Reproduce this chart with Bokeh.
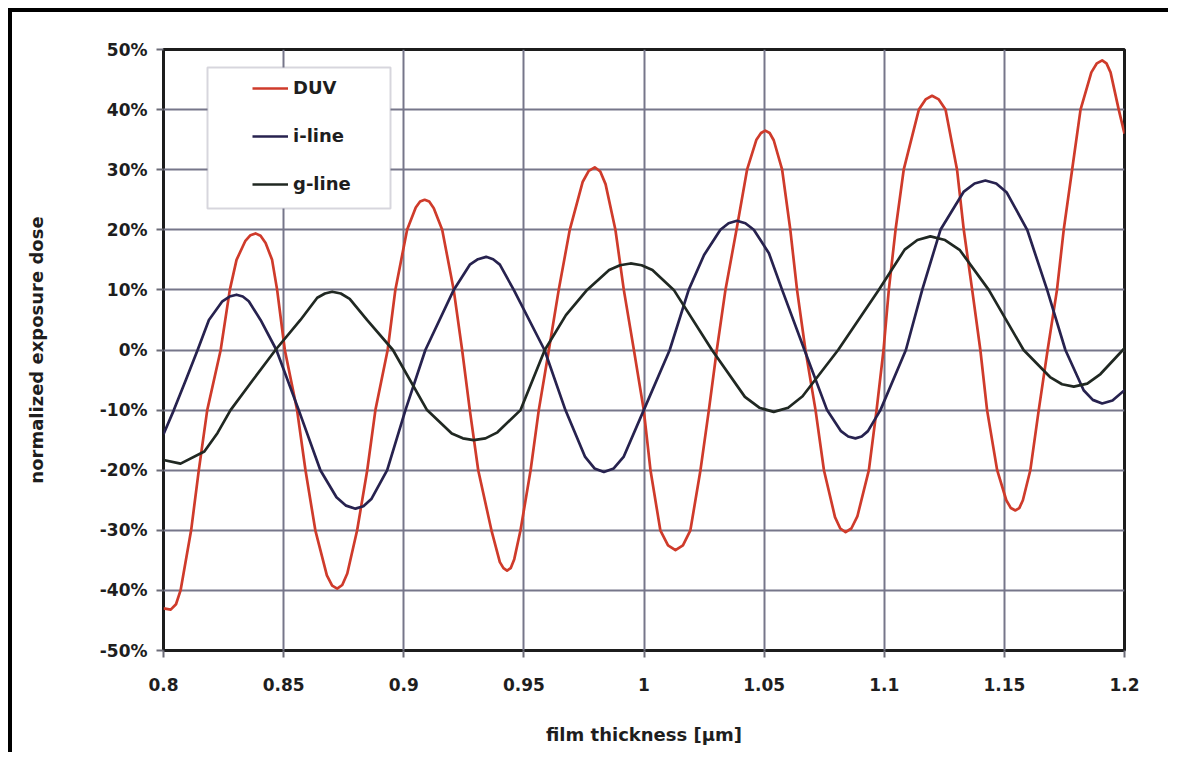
from bokeh.plotting import figure
from bokeh.models import (FixedTicker, Legend, LegendItem, BoxAnnotation, Node, Range1d)
from bokeh.embed import file_html
from bokeh.resources import INLINE

# ---- data ----
x_ticks = [0.8, 0.85, 0.9, 0.95, 1.0, 1.05, 1.1, 1.15, 1.2]
x_tick_labels = ["0.8", "0.85", "0.9", "0.95", "1", "1.05", "1.1", "1.15", "1.2"]
y_ticks = [-50, -40, -30, -20, -10, 0, 10, 20, 30, 40, 50]
y_tick_labels = ["-50%", "-40%", "-30%", "-20%", "-10%", "0%", "10%", "20%", "30%", "40%", "50%"]

series_names = ["DUV", "i-line", "g-line"]

duv_x = [0.8000, 0.8030, 0.8052, 0.8071, 0.8115, 0.8147, 0.8182, 0.8238, 0.8276, 0.8304, 0.8340, 0.8362,
         0.8383, 0.8404, 0.8425, 0.8452, 0.8473, 0.8505, 0.8556, 0.8591, 0.8632, 0.8680, 0.8702,
         0.8723, 0.8744, 0.8765, 0.8806, 0.8848, 0.8882, 0.8933, 0.8965, 0.9014, 0.9050, 0.9068,
         0.9087, 0.9106, 0.9125, 0.9160, 0.9208, 0.9243, 0.9275, 0.9310, 0.9365, 0.9400, 0.9415,
         0.9430, 0.9445, 0.9460, 0.9486, 0.9528, 0.9562, 0.9604, 0.9645, 0.9691, 0.9745, 0.9770,
         0.9795, 0.9818, 0.9840, 0.9881, 0.9916, 0.9958, 0.9999, 1.0027, 1.0068, 1.0100,
         1.0131, 1.0162, 1.0193, 1.0235, 1.0270, 1.0303, 1.0339, 1.0385, 1.0429, 1.0468, 1.0487,
         1.0505, 1.0523, 1.0540, 1.0575, 1.0609, 1.0637, 1.0672, 1.0714, 1.0749, 1.0795, 1.0817,
         1.0839, 1.0863, 1.0888, 1.0936, 1.0968, 1.0997, 1.1019, 1.1047, 1.1081, 1.1144, 1.1172,
         1.1199, 1.1227, 1.1255, 1.1303, 1.1331, 1.1366, 1.1400, 1.1428, 1.1470, 1.1508, 1.1527,
         1.1546, 1.1562, 1.1577, 1.1608, 1.1643, 1.1680, 1.1719, 1.1747, 1.1782, 1.1817, 1.1862, 1.1885,
         1.1907, 1.1925, 1.1942, 1.1976, 1.2000]
duv_y = [-43.0, -43.2, -42.3, -40, -30, -20, -10, 0, 10, 15, 18.1, 19.1,
         19.4, 19.0, 17.8, 15, 10, 0, -10, -20, -30, -37.5, -39.2,
         -39.7, -39.1, -37.2, -30, -20, -10, 0, 10, 20, 23.7, 24.7,
         25.0, 24.7, 23.6, 20, 10, 0, -10, -20, -30, -35.3, -36.3,
         -36.7, -36.3, -34.8, -30, -20, -10, 0, 10, 20, 28.0, 29.8,
         30.4, 29.7, 27.6, 20, 10, 0, -10, -20, -30, -32.5,
         -33.3, -32.5, -30, -20, -10, 0, 10, 20, 30, 35.0, 36.1,
         36.5, 36.1, 34.9, 30, 20, 10, 0, -10, -20, -27.8, -29.7,
         -30.3, -29.7, -27.7, -20, -10, 0, 10, 20, 30, 40, 41.7,
         42.3, 41.7, 40, 30, 20, 10, 0, -10, -20, -25.0, -26.3,
         -26.7, -26.3, -25.0, -20, -10, 0, 10, 20, 30, 40, 46.2, 47.7,
         48.2, 47.7, 46.2, 40, 36]

iline_x = [0.8000, 0.8043, 0.8093, 0.8142, 0.8189, 0.8245, 0.8275,
           0.8304, 0.8330, 0.8355, 0.8404, 0.8470, 0.8563, 0.8653, 0.8720, 0.8760,
           0.8799, 0.8832, 0.8865, 0.8931, 0.9007, 0.9090, 0.9208, 0.9275, 0.9309,
           0.9343, 0.9372, 0.9400, 0.9458, 0.9586, 0.9673, 0.9755, 0.9794,
           0.9833, 0.9874, 0.9915, 0.9999, 1.0107, 1.0186, 1.0250, 1.0318, 1.0352,
           1.0387, 1.0422, 1.0457, 1.0520, 1.0575, 1.0668, 1.0762, 1.0820, 1.0850,
           1.0880, 1.0906, 1.0932, 1.0984, 1.1090, 1.1158, 1.1234, 1.1330, 1.1376,
           1.1421, 1.1466, 1.1510, 1.1595, 1.1678, 1.1754, 1.1830, 1.1868,
           1.1907, 1.1950, 1.2000]
iline_y = [-14.0, -10, -5, 0, 5, 8.1, 8.9,
           9.2, 8.9, 8.1, 5, 0, -10, -20, -24.5, -25.9,
           -26.4, -26.0, -24.8, -20, -10, 0, 10, 14.2, 15.1,
           15.5, 15.1, 14.2, 10, 0, -10, -17.8, -19.7,
           -20.3, -19.7, -17.8, -10, 0, 10, 15.8, 20, 21.1,
           21.5, 21.1, 20, 16.1, 10, 0, -10, -13.5, -14.4,
           -14.7, -14.4, -13.5, -10, 0, 10, 20, 26.3, 27.7,
           28.2, 27.7, 26.2, 20, 10, 0, -6.7, -8.3,
           -8.9, -8.4, -6.7]

gline_x = [0.8000, 0.8071, 0.8170, 0.8225, 0.8279, 0.8372, 0.8466, 0.8570, 0.8640, 0.8672,
           0.8702, 0.8738, 0.8775, 0.8847, 0.8955, 0.9097, 0.9200, 0.9246,
           0.9291, 0.9340, 0.9390, 0.9486, 0.9587, 0.9675, 0.9763, 0.9855, 0.9900,
           0.9944, 0.9990, 1.0035, 1.0124, 1.0283, 1.0420, 1.0480,
           1.0540, 1.0600, 1.0660, 1.0808, 1.0977, 1.1085, 1.1138,
           1.1192, 1.1253, 1.1315, 1.1435, 1.1580, 1.1690, 1.1740,
           1.1789, 1.1845, 1.1900, 1.2000]
gline_y = [-18.3, -18.9, -16.9, -13.8, -10, -5.0, 0, 5, 8.7, 9.4,
           9.7, 9.4, 8.5, 5, 0, -10, -13.9, -14.7,
           -15.0, -14.7, -13.7, -10, 0, 5.8, 10, 13.3, 14.1,
           14.4, 14.1, 13.3, 10, 0, -7.8, -9.6,
           -10.3, -9.6, -7.7, 0, 10, 16.7, 18.3,
           18.9, 18.3, 16.6, 10, 0, -4.5, -5.7,
           -6.1, -5.6, -4.0, 0.3]

series_colors = ["#cf3b2b", "#27224f", "#202822"]

FONT = "DejaVu Sans"
TXT = "#1e1e1e"

p = figure(width=1160, height=744,
           x_range=Range1d(0.8, 1.2), y_range=Range1d(-50, 50),
           output_backend="svg", toolbar_location=None,
           min_border_left=151, min_border_right=48,
           min_border_top=37, min_border_bottom=106)
p.styles = {"border-left": "4px solid #000", "border-top": "4px solid #000",
            "margin": "8px 0 0 8px"}

p.background_fill_color = "white"
p.border_fill_color = "white"
p.outline_line_color = "#1c1c1c"
p.outline_line_width = 3

p.xaxis.ticker = FixedTicker(ticks=x_ticks)
p.yaxis.ticker = FixedTicker(ticks=y_ticks)
p.xaxis.major_label_overrides = dict(zip(x_ticks, x_tick_labels))
p.yaxis.major_label_overrides = dict(zip(y_ticks, y_tick_labels))

for ax in (p.xaxis, p.yaxis):
    ax.axis_line_color = None
    ax.major_tick_line_color = "#6c6c78"
    ax.major_tick_line_width = 2
    ax.major_tick_out = 7
    ax.major_tick_in = 0
    ax.minor_tick_line_color = None
    ax.major_label_text_font = FONT
    ax.major_label_text_font_size = "17px"
    ax.major_label_text_font_style = "bold"
    ax.major_label_text_color = TXT
    ax.axis_label_text_font = FONT
    ax.axis_label_text_font_size = "18px"
    ax.axis_label_text_font_style = "bold"
    ax.axis_label_text_color = TXT

p.xaxis.axis_label = "film thickness [μm]"
p.yaxis.axis_label = "normalized exposure dose"
p.xaxis.major_label_standoff = 20
p.yaxis.major_label_standoff = 9
p.xaxis.axis_label_standoff = 30
p.yaxis.axis_label_standoff = 50

p.xgrid.grid_line_color = "#76768a"
p.ygrid.grid_line_color = "#76768a"
p.xgrid.grid_line_width = 2
p.ygrid.grid_line_width = 2

renderers = []
for xs, ys, c in zip([duv_x, iline_x, gline_x], [duv_y, iline_y, gline_y], series_colors):
    r = p.line(xs, ys, line_color=c, line_width=2.7, line_join="round")
    renderers.append(r)

box = BoxAnnotation(
    left=Node(target="frame", symbol="left", offset=44),
    right=Node(target="frame", symbol="left", offset=227),
    top=Node(target="frame", symbol="top", offset=18),
    bottom=Node(target="frame", symbol="top", offset=159),
    fill_color="white", fill_alpha=1.0,
    line_color="#7a7890", line_width=2, level="annotation")
p.add_layout(box)

legend = Legend(
    items=[LegendItem(label=n, renderers=[r]) for n, r in zip(series_names, renderers)],
    location=(89, 456), padding=0, spacing=27,
    glyph_width=36, glyph_height=20, label_height=20, label_standoff=5,
    border_line_color=None, background_fill_alpha=0,
    label_text_font=FONT, label_text_font_size="18px",
    label_text_font_style="bold", label_text_color=TXT)
p.add_layout(legend)

open("out.html", "w").write(file_html(p, INLINE))
